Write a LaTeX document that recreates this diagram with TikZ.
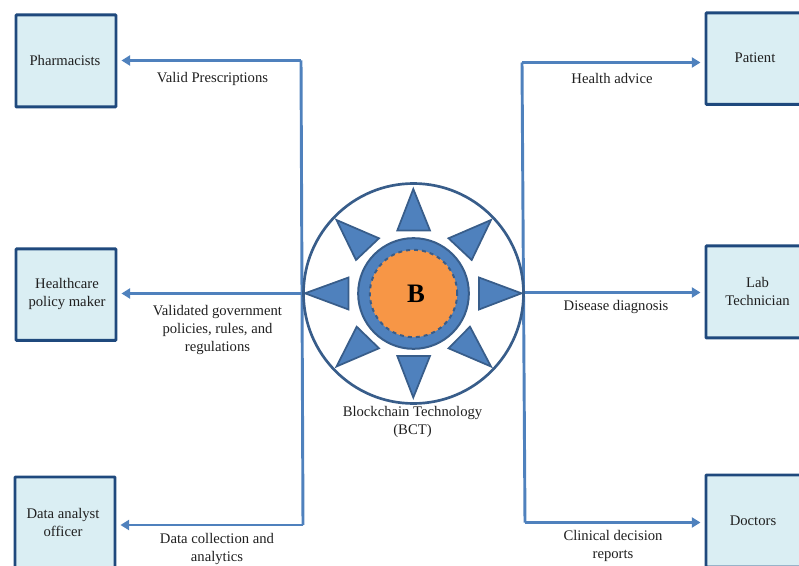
\documentclass[tikz,border=0pt]{standalone}
\usepackage{fontspec}
\setmainfont{Liberation Serif}
\usetikzlibrary{arrows.meta}
\definecolor{boxfill}{HTML}{DAEEF3}
\definecolor{boxline}{HTML}{1F497D}
\definecolor{conn}{HTML}{4F81BD}
\definecolor{ringline}{HTML}{385D8A}
\definecolor{orangefill}{HTML}{F79646}
\tikzset{
  actor/.style={draw=boxline,line width=2.2pt,fill=boxfill,rounded corners=0.6pt,inner sep=0pt,anchor=north west,align=center},
  lab/.style={align=center,inner sep=0pt,font=\fontsize{11}{13.5}\selectfont,text=black!88},
  link/.style={draw=conn,line width=2.2pt,line join=round},
  arrowlink/.style={link,-{Triangle[length=6.5pt,width=7.5pt]},shorten >=3pt},
  petal/.style={fill=conn,draw=ringline,line width=1.3pt,line join=miter}
}
\begin{document}
\begin{tikzpicture}[x=0.75pt,y=-0.75pt]
\useasboundingbox (0,0) rectangle (799,566);
\clip (0,0) rectangle (799,566);
% boxes
\node[actor,minimum width=75pt,minimum height=69pt] (ph) at (14.5,13.5) {};
\node[lab] at (65,60.5) {Pharmacists};
\node[actor,minimum width=75pt,minimum height=68.5pt] (hp) at (14.5,247.5) {};
\node[lab] at (67,294) {Healthcare\\policy maker};
\node[actor,minimum width=75pt,minimum height=69pt] (da) at (13.5,475.5) {};
\node[lab] at (63,522) {Data analyst\\officer};
\node[actor,minimum width=76.5pt,minimum height=68.5pt] (pa) at (704.5,11.5) {};
\node[lab] at (755,58) {Patient};
\node[actor,minimum width=76.5pt,minimum height=69pt] (lt) at (704.5,244.5) {};
\node[lab] at (757.5,291.5) {Lab\\Technician};
\node[actor,minimum width=76.5pt,minimum height=69pt] (dc) at (704.5,473.5) {};
\node[lab] at (753,521) {Doctors};
% junctions
\coordinate (lt1) at (301,60.5);
\coordinate (lm) at (302,293.5);
\coordinate (lb) at (303,525);
\coordinate (rt) at (522,62.5);
\coordinate (rm) at (523.5,292.5);
\coordinate (rb) at (525,522.5);
\draw[link] (lt1) -- (lm) -- (lb);
\draw[link] (rt) -- (rm) -- (rb);
\draw[arrowlink] (lt1) -- (ph.east |- lt1);
\draw[arrowlink] (lm) -- (hp.east |- lm);
\draw[arrowlink] (lb) -- (da.east |- lb);
\draw[arrowlink] (rt) -- (pa.west |- rt);
\draw[arrowlink] (rm) -- (lt.west |- rm);
\draw[arrowlink] (rb) -- (dc.west |- rb);
% hub
\node[circle,draw=ringline,line width=2pt,fill=white,minimum size=165pt,inner sep=0pt] (hub) at (413.5,293.5) {};
\node[circle,fill=conn,draw=ringline,line width=1.5pt,minimum size=83pt,inner sep=0pt] (ring) at (413.5,293.5) {};
\node[circle,fill=orangefill,draw=ringline,line width=1.5pt,dashed,minimum size=65.5pt,inner sep=0pt] (core) at (413.5,293.5) {};
\node[inner sep=0pt,font=\bfseries\fontsize{20}{22}\selectfont,text=black] (bl) at (416,294) {B};
% petals
\draw[petal] (413.3,189) -- (430,230.5) -- (397.3,230.5) -- cycle;
\draw[petal] (521.5,293.3) -- (479,277.5) -- (479,309.5) -- cycle;
\draw[petal] (491,220) -- (448.5,238.3) -- (471.7,260) -- cycle;
\draw[petal] (336.5,220) -- (379,238.3) -- (356,260) -- cycle;
\draw[petal] (413.3,397.5) -- (397.3,356) -- (430,356) -- cycle;
\draw[petal] (305,293.3) -- (348.5,277.5) -- (348.5,309.5) -- cycle;
\draw[petal] (336.5,366.5) -- (379,348.3) -- (356.7,326.7) -- cycle;
\draw[petal] (491,366.5) -- (448.5,348.3) -- (470,326.7) -- cycle;
% labels
\node[lab] at (212.5,78.5) {Valid Prescriptions};
\node[lab] at (217.5,330) {Validated government\\policies, rules, and\\regulations};
\node[lab] at (217,548.5) {Data collection and\\analytics};
\node[lab] at (612,78.5) {Health advice};
\node[lab] at (616,307) {Disease diagnosis};
\node[lab] at (613,545.5) {Clinical decision\\reports};
\node[lab] at (412.5,422) {Blockchain Technology\\(BCT)};
\end{tikzpicture}
\end{document}
